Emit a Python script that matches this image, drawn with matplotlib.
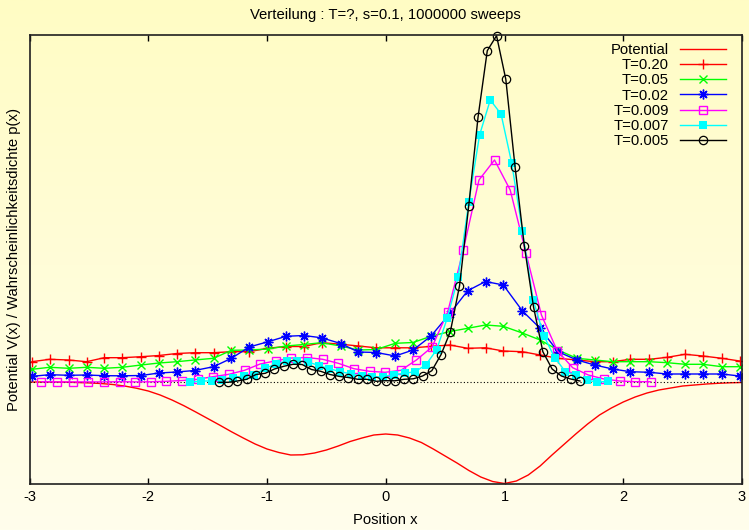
import numpy as np
import matplotlib
matplotlib.use("Agg")
import matplotlib.pyplot as plt

plt.rcParams['font.family'] = ['Liberation Sans', 'DejaVu Sans']

# Potential V(x)
x_pot = [-3.0, -2.9, -2.8, -2.7, -2.6, -2.5, -2.4, -2.3, -2.2, -2.1,
         -2.0, -1.9, -1.8, -1.7, -1.6, -1.5, -1.4, -1.3, -1.2, -1.1,
         -1.0, -0.9, -0.8, -0.7, -0.6, -0.5, -0.4, -0.3, -0.2, -0.1,
         0.0, 0.1, 0.2, 0.3, 0.4, 0.5, 0.6, 0.7, 0.8, 0.9,
         1.0, 1.1, 1.2, 1.3, 1.4, 1.5, 1.6, 1.7, 1.8, 1.9,
         2.0, 2.1, 2.2, 2.3, 2.4, 2.5, 2.6, 2.7, 2.8, 2.9, 3.0]
v_pot = [0.0, 0.0, 0.0, -0.002, -0.005, -0.009, -0.015, -0.025, -0.04, -0.062,
         -0.09, -0.13, -0.18, -0.237, -0.30, -0.365, -0.43, -0.497, -0.56, -0.62,
         -0.67, -0.705, -0.73, -0.728, -0.71, -0.68, -0.64, -0.595, -0.56, -0.53,
         -0.52, -0.53, -0.56, -0.605, -0.67, -0.74, -0.81, -0.885, -0.95, -0.995,
         -1.015, -0.99, -0.93, -0.84, -0.73, -0.625, -0.52, -0.42, -0.33, -0.26,
         -0.20, -0.15, -0.11, -0.08, -0.06, -0.04, -0.03, -0.02, -0.013, -0.008, -0.005]

# Raster fuer T=0.20, 0.05, 0.02
x_grob = [-2.98, -2.83, -2.67, -2.52, -2.37, -2.22, -2.06, -1.91, -1.76, -1.61,
          -1.45, -1.30, -1.15, -0.99, -0.84, -0.69, -0.54, -0.38, -0.23, -0.08,
          0.08, 0.23, 0.38, 0.54, 0.69, 0.84, 0.99, 1.15, 1.30, 1.45,
          1.61, 1.76, 1.91, 2.06, 2.22, 2.37, 2.52, 2.67, 2.83, 2.98]

p_020 = [0.203, 0.227, 0.22, 0.203, 0.243, 0.243, 0.253, 0.265, 0.285, 0.293,
         0.293, 0.303, 0.303, 0.338, 0.355, 0.355, 0.393, 0.378, 0.36, 0.342,
         0.342, 0.342, 0.356, 0.37, 0.337, 0.342, 0.31, 0.303, 0.27, 0.237,
         0.22, 0.203, 0.203, 0.227, 0.227, 0.247, 0.277, 0.26, 0.237, 0.21]

p_005 = [0.127, 0.147, 0.137, 0.147, 0.137, 0.147, 0.17, 0.19, 0.203, 0.22,
         0.237, 0.317, 0.32, 0.33, 0.36, 0.375, 0.393, 0.36, 0.32, 0.325,
         0.387, 0.395, 0.457, 0.505, 0.537, 0.57, 0.557, 0.49, 0.42, 0.32,
         0.237, 0.22, 0.203, 0.203, 0.203, 0.193, 0.177, 0.177, 0.153, 0.153]

p_002 = [0.057, 0.073, 0.067, 0.07, 0.063, 0.062, 0.065, 0.09, 0.10, 0.115,
         0.153, 0.237, 0.35, 0.403, 0.457, 0.465, 0.442, 0.385, 0.30, 0.295,
         0.26, 0.32, 0.458, 0.685, 0.913, 1.005, 0.97, 0.712, 0.537, 0.303,
         0.22, 0.17, 0.13, 0.103, 0.097, 0.08, 0.08, 0.08, 0.08, 0.06]

# T=0.009
x_009 = [-2.90, -2.768, -2.637, -2.505, -2.374, -2.242, -2.110, -1.979, -1.847, -1.716,
         -1.584, -1.452, -1.321, -1.189, -1.058, -0.926, -0.794, -0.663, -0.531, -0.400,
         -0.268, -0.136, -0.005, 0.127, 0.258, 0.39, 0.522, 0.653, 0.785, 0.916,
         1.048, 1.18, 1.311, 1.443, 1.574, 1.706, 1.838, 1.969, 2.101, 2.232]
p_0009 = [0.003, 0.001, 0.001, 0.001, 0.001, 0.003, 0.001, 0.002, 0.007, 0.015,
          0.027, 0.054, 0.077, 0.117, 0.18, 0.212, 0.24, 0.245, 0.227, 0.187,
          0.133, 0.107, 0.097, 0.117, 0.22, 0.35, 0.70, 1.32, 2.02, 2.22,
          1.92, 1.293, 0.67, 0.315, 0.143, 0.07, 0.03, 0.01, 0.003, 0.003]

# T=0.007
x_007 = [-1.648, -1.558, -1.467, -1.377, -1.287, -1.197, -1.106, -1.016, -0.926, -0.835,
         -0.745, -0.655, -0.564, -0.474, -0.384, -0.293, -0.203, -0.113, -0.023, 0.068,
         0.158, 0.248, 0.339, 0.429, 0.519, 0.610, 0.700, 0.790, 0.880, 0.971,
         1.061, 1.151, 1.242, 1.332, 1.422, 1.513, 1.603, 1.693, 1.783, 1.874]
p_0007 = [-0.003, 0.01, 0.01, 0.025, 0.043, 0.06, 0.07, 0.137, 0.18, 0.21,
          0.21, 0.20, 0.165, 0.132, 0.105, 0.08, 0.06, 0.05, 0.053, 0.075,
          0.087, 0.103, 0.173, 0.323, 0.643, 1.047, 1.803, 2.47, 2.82, 2.68,
          2.187, 1.51, 0.82, 0.46, 0.245, 0.103, 0.07, 0.02, -0.003, 0.01]

# T=0.005
x_0005 = [-1.405, -1.327, -1.249, -1.171, -1.093, -1.015, -0.937, -0.859, -0.781, -0.704,
          -0.626, -0.548, -0.470, -0.392, -0.314, -0.236, -0.158, -0.080, -0.002, 0.076,
          0.154, 0.232, 0.310, 0.388, 0.466, 0.544, 0.621, 0.699, 0.777, 0.855,
          0.933, 1.011, 1.089, 1.167, 1.245, 1.323, 1.401, 1.479, 1.557, 1.635]
p_0005 = [-0.003, -0.003, 0.01, 0.027, 0.075, 0.087, 0.13, 0.157, 0.177, 0.175,
          0.125, 0.107, 0.075, 0.056, 0.045, 0.027, 0.027, 0.007, 0.013, 0.012,
          0.027, 0.032, 0.06, 0.113, 0.275, 0.503, 0.96, 1.763, 2.647, 3.313,
          3.463, 3.027, 2.15, 1.36, 0.747, 0.303, 0.13, 0.06, 0.03, 0.01]

fig = plt.figure(figsize=(7.49, 5.30), dpi=100)

# Hintergrund: Verlauf von gelb (oben) nach hell (unten)
bg = fig.add_axes([0, 0, 1, 1], zorder=-10)
top = np.array([255, 252, 196]) / 255
bot = np.array([255, 254, 236]) / 255
t = np.linspace(0, 1, 256)[:, None]
grad = top[None, :] * (1 - t) + bot[None, :] * t
bg.imshow(grad[:, None, :], aspect='auto', extent=[0, 1, 0, 1])
bg.axis('off')

ax = fig.add_axes([29.5 / 749, 1 - 483.5 / 530, (742 - 29.5) / 749, (483.5 - 35.5) / 530])
ax.set_facecolor('none')

ax.plot(x_pot, v_pot, color='#ff0000', lw=1.0, label='Potential')
ax.axhline(0, color='black', lw=0.8, ls=(0, (1, 2)))
ax.plot(x_grob, p_020, color='#ff0000', lw=1.0, marker='+', ms=7, mew=1.0, label='T=0.20')
ax.plot(x_grob, p_005, color='#00ff00', lw=1.0, marker='x', ms=5.5, mew=1.0, label='T=0.05')
ax.plot(x_grob, p_002, color='#0000ff', lw=1.0, marker=(8, 2, 0), ms=7, mew=1.0, label='T=0.02')
ax.plot(x_009, p_0009, color='#ff00ff', lw=1.0, marker='s', ms=6, mew=1.0, mfc='none', label='T=0.009')
ax.plot(x_007, p_0007, color='#00ffff', lw=1.0, marker='s', ms=5.5, mew=0, label='T=0.007')
ax.plot(x_0005, p_0005, color='black', lw=1.0, marker='o', ms=6, mew=0.9, mfc='none',
        label='T=0.005', clip_on=False)

ax.set_xlim(-3, 3)
ax.set_ylim(-1.015, 3.465)
ax.set_xticks([-3, -2, -1, 0, 1, 2, 3])
ax.set_xticklabels(['-3', '-2', '-1', '0', '1', '2', '3'])
ax.set_yticks([])
ax.tick_params(axis='x', direction='in', length=4.5, width=1.0, top=True, pad=5, labelsize=10.5)
for s in ax.spines.values():
    s.set_linewidth(1.2)
    s.set_color('#202020')

fig.text(385.75 / 749, 1 - 15 / 530, 'Verteilung : T=?, s=0.1, 1000000 sweeps',
         ha='center', va='center', fontsize=10.7)
fig.text(385.75 / 749, 1 - 520 / 530, 'Position x', ha='center', va='center', fontsize=10.7)
fig.text(14 / 749, 1 - 259.5 / 530, 'Potential V(x) / Wahrscheinlichkeitsdichte p(x)',
         rotation=90, ha='center', va='center', fontsize=10.7)

leg = ax.legend(loc='upper right', bbox_to_anchor=(726 / 749, 1 - 43 / 530),
                bbox_transform=fig.transFigure, frameon=False, markerfirst=False,
                fontsize=10.7, handlelength=3.1, handletextpad=0.75, labelspacing=0.08,
                borderpad=0, borderaxespad=0)

fig.savefig('out.png', dpi=100)
